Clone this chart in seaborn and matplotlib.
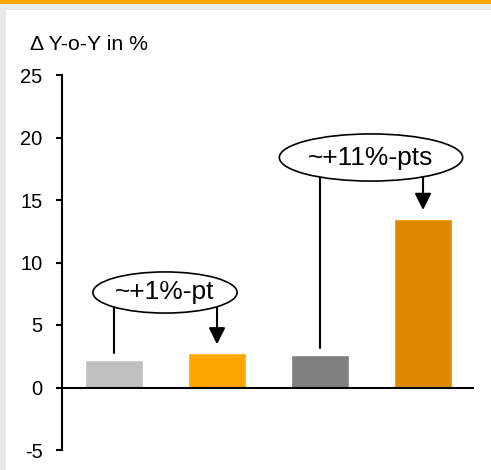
import pandas as pd
import seaborn as sns
import matplotlib.pyplot as plt
from matplotlib.patches import Ellipse, Rectangle

categorias = ["A", "B", "C", "D"]
valores = [2.2, 2.75, 2.6, 13.5]
cores = ["#c0c0c0", "#ffa500", "#808080", "#e08800"]
titulo = "\u0394 Y-o-Y in %"
rotulos = ["~+1%-pt", "~+11%-pts"]
yticks = [-5, 0, 5, 10, 15, 20, 25]

dados = pd.DataFrame({"cat": categorias, "val": valores})

sns.set_theme(style="white")
plt.rcParams["font.family"] = ["Liberation Sans", "DejaVu Sans"]
plt.rcParams["axes.unicode_minus"] = False
plt.rcParams["text.color"] = "black"

fig = plt.figure(figsize=(4.91, 4.70), dpi=100)
fig.patch.set_facecolor("#e9e9e9")
# painel branco e faixa laranja no topo
fig.add_artist(Rectangle((6 / 491, 0), 1, 1 - 10 / 470, transform=fig.transFigure,
                         facecolor="white", edgecolor="none", zorder=0))
fig.add_artist(Rectangle((0, 1 - 4 / 470), 1, 4 / 470, transform=fig.transFigure,
                         facecolor="#ffa500", edgecolor="none", zorder=0))

ax = fig.add_axes([62 / 491, 20 / 470, 412 / 491, 375 / 470])
ax.patch.set_alpha(0)
sns.barplot(data=dados, x="cat", y="val", hue="cat", palette=cores,
            legend=False, width=0.56, saturation=1, ax=ax)

ax.set_xlim(-0.505, 3.495)
ax.set_ylim(-5, 25)
ax.set_yticks(yticks)
ax.set_xticks([])
ax.set_xlabel("")
ax.set_ylabel("")
for s in ["top", "right", "bottom"]:
    ax.spines[s].set_visible(False)
ax.spines["left"].set_linewidth(1.5)
ax.spines["left"].set_color("black")
ax.axhline(0, color="black", lw=1.5, zorder=3)
ax.tick_params(axis="y", direction="out", length=4, width=1.5, pad=10,
               labelsize=14.5, colors="black", left=True)

fig.text(30 / 491, 1 - 45 / 470, titulo, fontsize=15.3, va="center", ha="left",
         color="black")

# ellipses com as diferencas
elipses = [(0.495, 7.6, 1.40, 3.29), (2.495, 18.4, 1.78, 3.77)]
pares = [(0, 1), (2, 3)]
for (cx, cy, w, h), (i, j), txt in zip(elipses, pares, rotulos):
    ax.plot([i, i], [valores[i] + 0.6, cy], color="black", lw=1.5, zorder=4)
    ax.annotate("", xy=(j, valores[j] + 0.7), xytext=(j, cy), zorder=4,
                arrowprops=dict(arrowstyle="-|>,head_length=1.0,head_width=0.5",
                                mutation_scale=10, color="black", lw=1.5,
                                shrinkA=0, shrinkB=0))
    ax.add_patch(Ellipse((cx, cy), w, h, facecolor="white", edgecolor="black",
                         lw=1.2, zorder=5))
    ax.text(cx, cy, txt, ha="center", va="center", fontsize=19, zorder=6,
            color="black")

plt.savefig("out.png", dpi=100)
